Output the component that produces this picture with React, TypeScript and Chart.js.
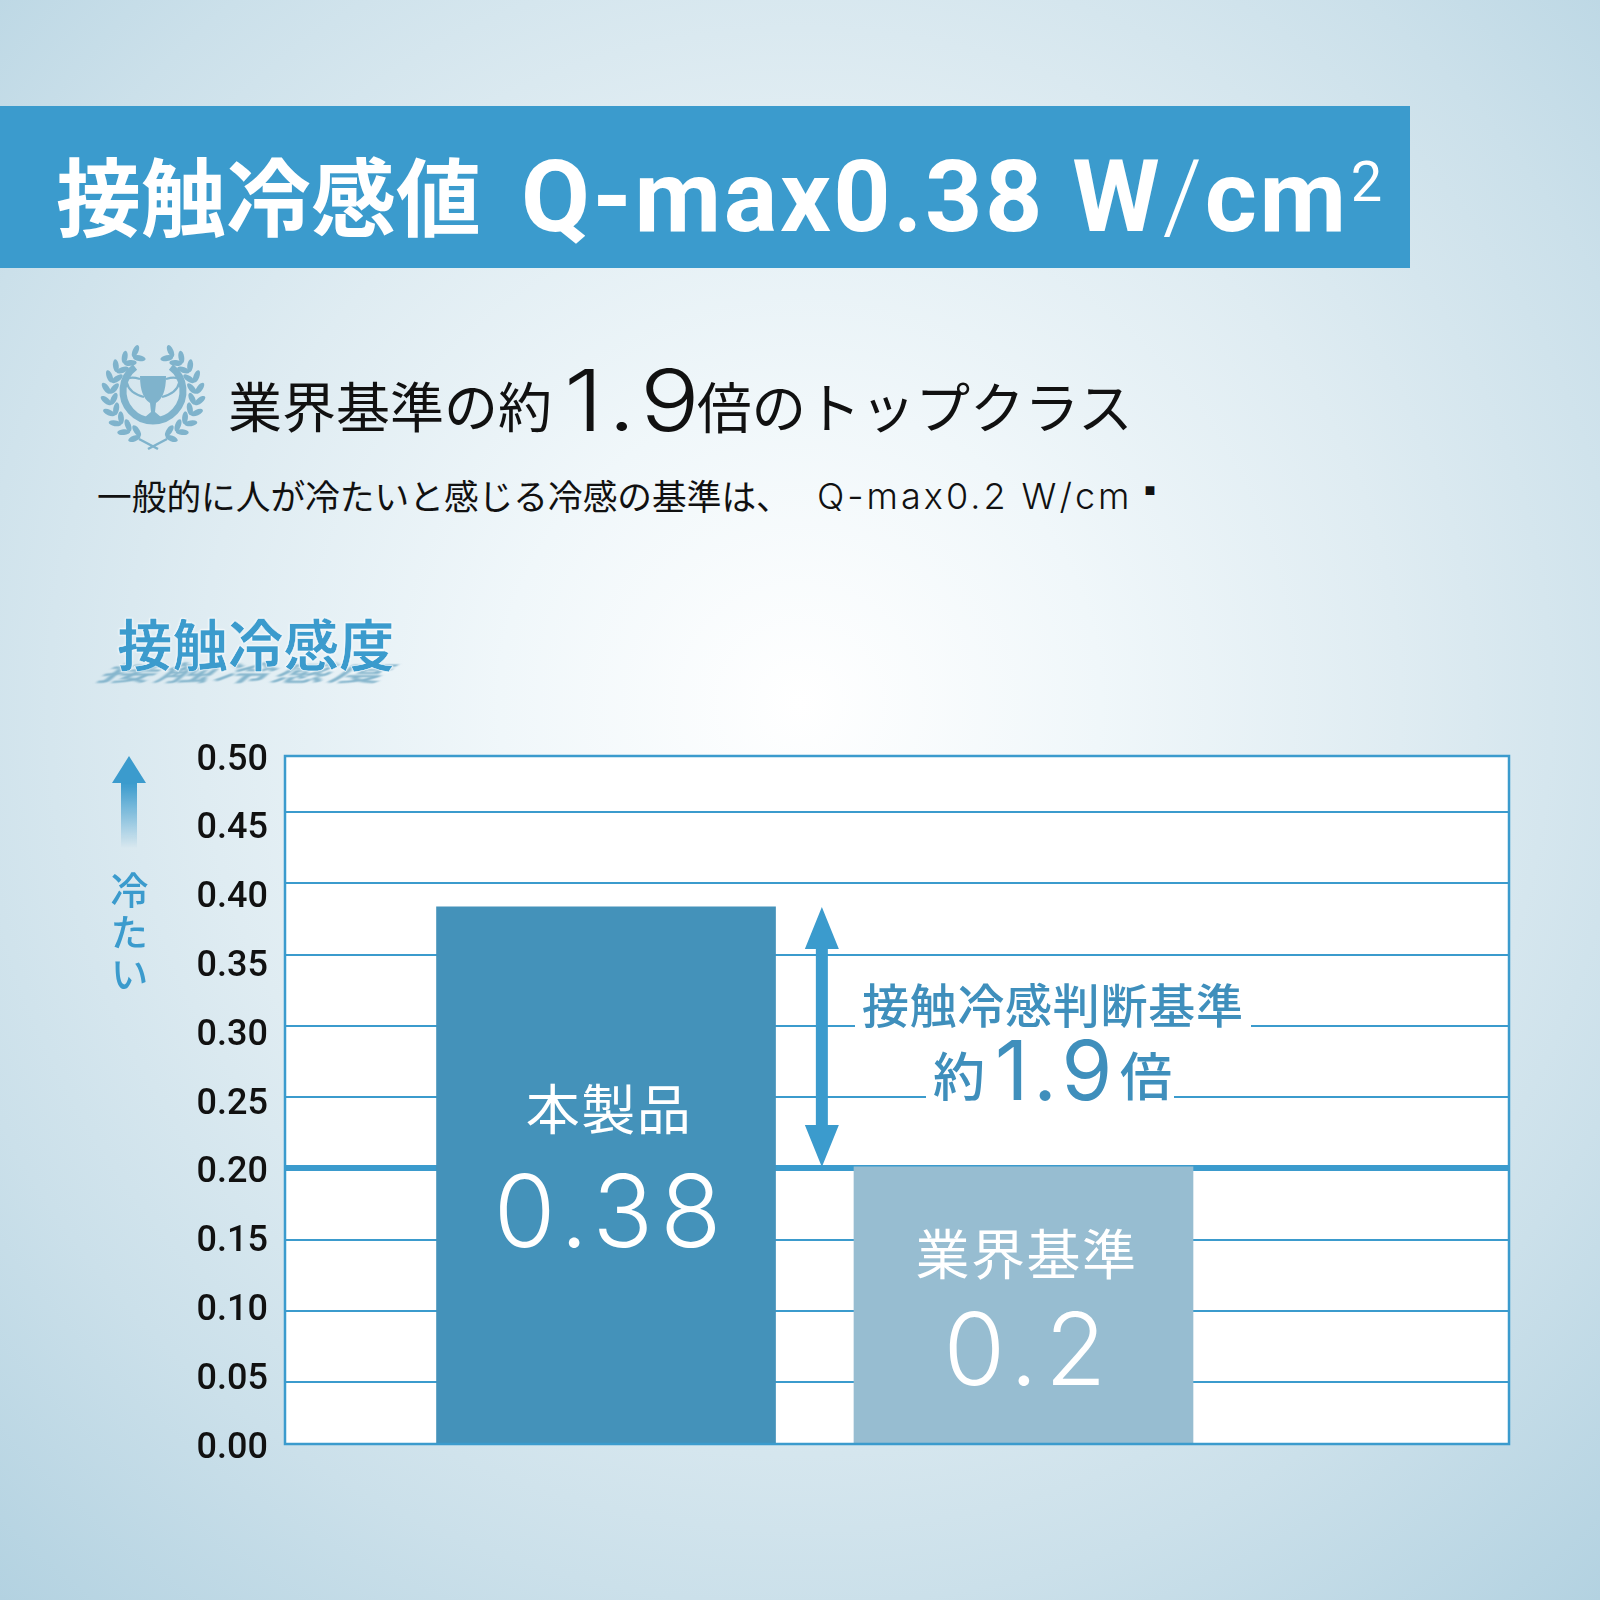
import React, { useEffect, useRef } from "react";
import { Chart, registerables } from "chart.js";

Chart.register(...registerables);

const categories = ["本製品", "業界基準"];
const categoryPositions = [1, 2];
const values = [0.38, 0.2];
const valueLabels = ["0.38", "0.2"];
const barColors = ["#4492ba", "#97bdd1"];
const yTickValues = [0, 0.05, 0.1, 0.15, 0.2, 0.25, 0.3, 0.35, 0.4, 0.45, 0.5];
const gridValues = [0.05, 0.1, 0.15, 0.2, 0.25, 0.3, 0.35, 0.4, 0.45];
const standardValue = 0.2;

const BLUE = "#3b9bcd";
const LEAF = "#7fb3cc";
const CJK = '"Noto Sans CJK JP", sans-serif';

// text offsets below the top of each bar
const nameOffsets = [203, 88];
const valueOffsets = [310, 188];

// white plot area before anything else, frame + bar labels + arrow on top
const plotPlugin = {
  id: "plotDecor",
  beforeDraw(chart: any) {
    const { ctx, chartArea: a } = chart;
    ctx.save();
    ctx.fillStyle = "#ffffff";
    ctx.fillRect(a.left, a.top, a.right - a.left, a.bottom - a.top);
    ctx.restore();
  },
  afterDatasetsDraw(chart: any) {
    const { ctx, chartArea: a, scales } = chart;
    ctx.save();
    ctx.strokeStyle = BLUE;
    ctx.lineWidth = 2.5;
    ctx.strokeRect(a.left, a.top, a.right - a.left, a.bottom - a.top);

    // arrow between the product value and the standard value
    const x = scales.x.getPixelForValue(1.517);
    const top = scales.barY.getPixelForValue(values[0]);
    const bottom = scales.barY.getPixelForValue(values[1]);
    ctx.fillStyle = BLUE;
    ctx.fillRect(x - 6, top + 30, 12, bottom - top - 60);
    ctx.beginPath();
    ctx.moveTo(x, top);
    ctx.lineTo(x + 17, top + 42);
    ctx.lineTo(x - 17, top + 42);
    ctx.closePath();
    ctx.moveTo(x, bottom);
    ctx.lineTo(x + 17, bottom - 42);
    ctx.lineTo(x - 17, bottom - 42);
    ctx.closePath();
    ctx.fill();

    // labels inside the bars
    const bars = chart.getDatasetMeta(0).data;
    ctx.fillStyle = "#ffffff";
    ctx.textAlign = "center";
    ctx.textBaseline = "middle";
    bars.forEach((bar: any, i: number) => {
      ctx.font = `400 54px ${CJK}`;
      ctx.letterSpacing = "1.5px";
      ctx.fillText(categories[i], bar.x + 3, bar.y + nameOffsets[i]);
      ctx.font = "300 100px Inter";
      ctx.letterSpacing = "7px";
      ctx.fillText(valueLabels[i], bar.x + 5, bar.y + valueOffsets[i]);
    });
    ctx.restore();
  },
};

function Text({ x, y, size, children, style }: any) {
  return (
    <span
      lang="ja"
      style={{
        position: "absolute",
        left: x,
        top: y,
        fontSize: size,
        lineHeight: 1,
        whiteSpace: "nowrap",
        fontFamily: CJK,
        ...style,
      }}
    >
      {children}
    </span>
  );
}

function Laurel() {
  const leaves = [];
  const cx = 55;
  const cy = 52;
  for (let i = 0; i < 10; i++) {
    const deg = 28 + i * 15;
    const rad = (deg * Math.PI) / 180;
    for (const side of [-1, 1]) {
      const px = cx + side * 43 * Math.sin(rad);
      const py = cy - 43 * Math.cos(rad);
      // leaf sits along the stem, one tilted out and one tilted in
      const base = side * deg - 90 * side;
      for (const tilt of [-38, 38]) {
        const t = base + side * tilt;
        leaves.push(
          <ellipse key={`${i}${side}${tilt}`} cx={px} cy={py - 6.5} rx={2.9} ry={6.5} fill={LEAF}
            transform={`rotate(${t} ${px} ${py})`} />
        );
      }
    }
  }
  return (
    <svg width={110} height={108} viewBox="0 0 110 108" style={{ position: "absolute", left: 98, top: 343 }}>
      {leaves}
      <path d="M37 24 A30 30 0 1 0 73 24" fill="none" stroke={LEAF} strokeWidth={7} />
      <path d="M42 33 H68 Q68 54 58 60 L57 69 Q62 73 66 77 H44 Q48 73 53 69 L52 60 Q42 54 42 33 Z" fill={LEAF} />
      <path d="M42 36 Q28 32 29 40 Q31 50 46 54 M68 36 Q82 32 81 40 Q79 50 64 54" fill="none" stroke={LEAF} strokeWidth={2.2} />
      <path d="M41 96 L60 106 M69 96 L50 106" stroke={LEAF} strokeWidth={2.5} />
    </svg>
  );
}

export default function App() {
  const canvasRef = useRef<HTMLCanvasElement | null>(null);

  useEffect(() => {
    if (!canvasRef.current) return;
    const chart = new Chart(canvasRef.current, {
      type: "bar",
      data: {
        labels: categories,
        datasets: [
          {
            data: categoryPositions.map((x, i) => ({ x, y: values[i] })),
            backgroundColor: barColors,
            barThickness: 339,
            yAxisID: "barY",
            xAxisID: "x",
          },
        ],
      } as any,
      plugins: [plotPlugin],
      options: {
        animation: false,
        responsive: false,
        devicePixelRatio: 1,
        layout: { padding: { left: 0, right: 91, top: 756, bottom: 156 } },
        plugins: { legend: { display: false }, tooltip: { enabled: false } },
        scales: {
          x: { type: "linear", display: false, offset: false, min: 0.231, max: 3.163 },
          // the printed labels are evenly spaced
          y: {
            position: "left",
            min: 0.0033,
            max: 0.5033,
            grid: { display: false, drawTicks: false },
            border: { display: false },
            afterBuildTicks: (s: any) => {
              s.ticks = yTickValues.map((value) => ({ value }));
            },
            afterFit: (s: any) => {
              s.width = 285;
            },
            ticks: {
              padding: 17,
              color: "#111111",
              autoSkip: false,
              font: { family: "Roboto", size: 36, weight: "500" },
              callback: (v: any) => Number(v).toFixed(2),
            },
          },
          // grid lines sit slightly off from those labels in the reference
          gridY: {
            position: "left",
            min: 0.0065,
            max: 0.4893,
            border: { display: false },
            ticks: { display: false },
            afterBuildTicks: (s: any) => {
              s.ticks = gridValues.map((value) => ({ value }));
            },
            afterFit: (s: any) => {
              s.width = 0;
            },
            grid: {
              drawTicks: false,
              color: BLUE,
              lineWidth: (c: any) => (c.tick && c.tick.value === standardValue ? 6 : 2),
            },
          },
          barY: { position: "left", display: false, min: 0.0082, max: 0.4845 },
        },
      } as any,
    });
    return () => chart.destroy();
  }, []);

  return (
    <div
      style={{
        position: "absolute",
        left: 0,
        top: 0,
        width: 1600,
        height: 1600,
        overflow: "hidden",
        background:
          "radial-gradient(circle at 50% 44%, #ffffff 0%, #f0f7fa 25%, #dfecf2 50%, #cbe0ea 75%, #b3d2e1 100%)",
      }}
    >
      <div style={{ position: "absolute", left: 0, top: 106, width: 1410, height: 162, background: BLUE }} />
      <Text x={56} y={150} size={85} style={{ color: "#fff", fontWeight: 700 }}>接触冷感値</Text>
      <Text x={521} y={147} size={100} style={{ color: "#fff", fontWeight: 700, fontFamily: "Roboto", letterSpacing: 2.6 }}>
        Q-max0.38 W<span style={{ fontWeight: 300 }}>/</span>cm
        <sup style={{ fontSize: 56, fontWeight: 400, verticalAlign: 30, lineHeight: 0, marginLeft: 2 }}>2</sup>
      </Text>

      <Laurel />
      <Text x={228} y={378} size={54} style={{ color: "#111" }}>業界基準の約</Text>
      <Text x={564} y={358} size={85} style={{ color: "#111", fontFamily: "Inter", fontWeight: 300, letterSpacing: 4, transform: "scaleX(1.17)", transformOrigin: "left" }}>1.9</Text>
      <Text x={697} y={378} size={54.6} style={{ color: "#111" }}>倍のトップクラス</Text>
      <Text x={97} y={478} size={34.7} style={{ color: "#111" }}>一般的に人が冷たいと感じる冷感の基準は、</Text>
      <Text x={817} y={478} size={36} style={{ color: "#111", fontFamily: "Inter", fontWeight: 300, letterSpacing: 3 }}>Q-max0.2 W/cm</Text>
      <Text x={1134} y={473} size={32} style={{ color: "#111" }}>▪</Text>

      <Text x={106} y={644} size={55} style={{ color: "#86b6cd", fontWeight: 700, transform: "skewX(-50deg) scaleY(0.4)", filter: "blur(1.5px)", letterSpacing: 3 }}>接触冷感度</Text>
      <Text x={117} y={615} size={55.5} style={{ color: BLUE, fontWeight: 700, WebkitTextStroke: "0.5px #fff", textShadow: "0 0 3px #fff" }}>接触冷感度</Text>

      <canvas ref={canvasRef} width={1600} height={1600} style={{ position: "absolute", left: 0, top: 0, display: "block" }} />

      {/* arrow next to the axis */}
      <svg width={40} height={95} style={{ position: "absolute", left: 109, top: 755 }}>
        <defs>
          <linearGradient id="fade" x1="0" y1="0" x2="0" y2="1">
            <stop offset="0.3" stopColor={BLUE} />
            <stop offset="1" stopColor={BLUE} stopOpacity="0" />
          </linearGradient>
        </defs>
        <path d="M20 1 L37 28 H28 V93 H12 V28 H3 Z" fill="url(#fade)" />
      </svg>
      <Text x={110} y={871} size={38} style={{ color: BLUE, writingMode: "vertical-rl", letterSpacing: 4, fontWeight: 500 }}>冷たい</Text>

      <Text x={855} y={976} size={47} style={{ color: "#3f8fbc", background: "#fff", padding: "3px 7px", letterSpacing: 0.7, fontWeight: 500 }}>接触冷感判断基準</Text>
      <div style={{ position: "absolute", left: 926, top: 1045, width: 248, height: 58, background: "#fff" }} />
      <Text x={933} y={1048} size={52} style={{ color: "#3f8fbc", fontWeight: 500 }}>約</Text>
      <Text x={995} y={1030} size={82} style={{ color: "#3f8fbc", fontFamily: "Inter", fontWeight: 400, letterSpacing: 5 }}>1.9</Text>
      <Text x={1120} y={1048} size={52} style={{ color: "#3f8fbc", fontWeight: 500 }}>倍</Text>
    </div>
  );
}
